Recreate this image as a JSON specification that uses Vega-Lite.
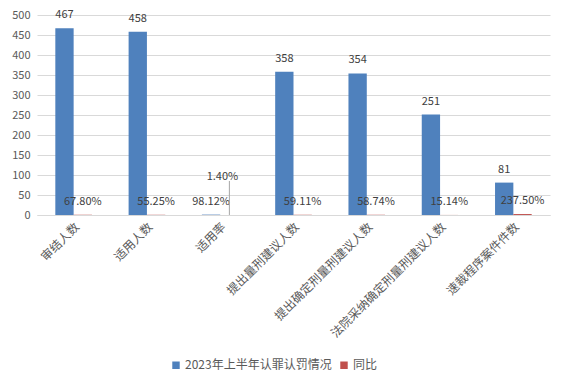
{
  "$schema": "https://vega.github.io/schema/vega-lite/v6.json",
  "autosize": {"type": "none"},
  "width": 513,
  "height": 200,
  "padding": {"left": 37, "top": 15, "right": 16, "bottom": 172},
  "background": "white",
  "config": {
    "view": {"stroke": null},
    "font": "Noto Sans CJK SC",
    "axis": {"labelFont": "Noto Sans CJK SC", "labelFontSize": 11, "labelColor": "#595959"},
    "legend": {"labelFont": "Noto Sans CJK SC", "labelFontSize": 11, "labelColor": "#595959"}
  },
  "data": {
    "values": [
      {"category": "审结人数", "series": "2023年上半年认罪认罚情况", "value": 467, "label": "467"},
      {"category": "适用人数", "series": "2023年上半年认罪认罚情况", "value": 458, "label": "458"},
      {"category": "适用率", "series": "2023年上半年认罪认罚情况", "value": 0.9812, "label": "98.12%"},
      {"category": "提出量刑建议人数", "series": "2023年上半年认罪认罚情况", "value": 358, "label": "358"},
      {"category": "提出确定刑量刑建议人数", "series": "2023年上半年认罪认罚情况", "value": 354, "label": "354"},
      {"category": "法院采纳确定刑量刑建议人数", "series": "2023年上半年认罪认罚情况", "value": 251, "label": "251"},
      {"category": "速裁程序案件件数", "series": "2023年上半年认罪认罚情况", "value": 81, "label": "81"},
      {"category": "审结人数", "series": "同比", "value": 0.678, "label": "67.80%"},
      {"category": "适用人数", "series": "同比", "value": 0.5525, "label": "55.25%"},
      {"category": "适用率", "series": "同比", "value": 0.014, "label": "1.40%"},
      {"category": "提出量刑建议人数", "series": "同比", "value": 0.5911, "label": "59.11%"},
      {"category": "提出确定刑量刑建议人数", "series": "同比", "value": 0.5874, "label": "58.74%"},
      {"category": "法院采纳确定刑量刑建议人数", "series": "同比", "value": 0.1514, "label": "15.14%"},
      {"category": "速裁程序案件件数", "series": "同比", "value": 2.375, "label": "237.50%"}
    ]
  },
  "encoding": {
    "x": {
      "field": "category", "type": "nominal", "sort": null,
      "scale": {"paddingInner": 0.5, "paddingOuter": 0.25},
      "axis": {"title": null, "labelAngle": -45, "labelFontSize": 12, "domain": true, "domainColor": "#D9D9D9", "ticks": false, "labelPadding": 6, "labelLimit": 200}
    },
    "xOffset": {
      "field": "series", "type": "nominal", "sort": ["2023年上半年认罪认罚情况", "同比"],
      "scale": {"paddingInner": 0, "paddingOuter": 0}
    },
    "y": {
      "field": "value", "type": "quantitative",
      "scale": {"domain": [0, 500], "nice": false},
      "axis": {"title": null, "values": [0, 50, 100, 150, 200, 250, 300, 350, 400, 450, 500], "domain": false, "ticks": false, "gridColor": "#D9D9D9", "labelPadding": 7}
    }
  },
  "layer": [
    {
      "mark": {"type": "bar"},
      "encoding": {
        "color": {
          "field": "series", "type": "nominal", "sort": ["2023年上半年认罪认罚情况", "同比"],
          "scale": {"domain": ["2023年上半年认罪认罚情况", "同比"], "range": ["#4F81BD", "#C0504D"]},
          "legend": {"title": null, "orient": "none", "legendX": 133, "legendY": 344, "direction": "horizontal", "symbolType": "square", "symbolSize": 80, "symbolStrokeColor": "#ffffff", "columnPadding": 4, "labelOffset": 3, "labelFontSize": 12}
        }
      }
    },
    {
      "transform": [{"filter": "datum.label != '1.40%'"}],
      "mark": {"type": "text", "baseline": "bottom", "dy": -8, "fontSize": 11, "color": "#404040"},
      "encoding": {"text": {"field": "label"}}
    },
    {
      "transform": [{"filter": "datum.label == '1.40%'"}],
      "mark": {"type": "text", "baseline": "bottom", "dy": -33, "dx": -7, "fontSize": 11, "color": "#404040"},
      "encoding": {"text": {"field": "label"}}
    },
    {
      "transform": [{"filter": "datum.label == '1.40%'"}],
      "mark": {"type": "rule", "color": "#A6A6A6", "strokeWidth": 1},
      "encoding": {"y2": {"datum": 85}}
    }
  ]
}
